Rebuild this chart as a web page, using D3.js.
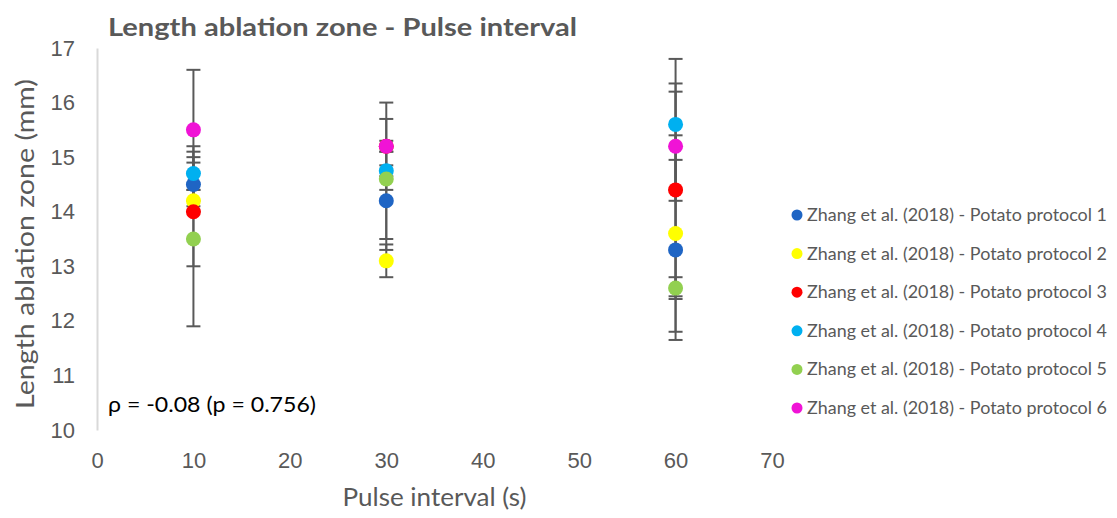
<!DOCTYPE html>
<html>
<head>
<meta charset="utf-8">
<script src="https://cdn.jsdelivr.net/npm/d3@7"></script>
<style>
    body { margin: 0; background: #fff; }
    svg { font-family: Lato, "Open Sans", sans-serif; }
</style>
</head>
<body>
<div id="chart"></div>
<script>
// Chart values
var pulseIntervals = [10, 30, 60];
var seriesNames = [
    "Zhang et al. (2018) - Potato protocol 1",
    "Zhang et al. (2018) - Potato protocol 2",
    "Zhang et al. (2018) - Potato protocol 3",
    "Zhang et al. (2018) - Potato protocol 4",
    "Zhang et al. (2018) - Potato protocol 5",
    "Zhang et al. (2018) - Potato protocol 6"
];
var seriesColors = ["#1f65c4", "#ffff00", "#ff0000", "#00b0f0", "#92d050", "#f013d6"];
var lengthValues = [
    [14.5, 14.2, 13.3],
    [14.2, 13.1, 13.6],
    [14.0, 15.2, 14.4],
    [14.7, 14.75, 15.6],
    [13.5, 14.6, 12.6],
    [15.5, 15.2, 15.2]
];
var lengthErrors = [
    [0.4, 0.9, 1.65],
    [0.2, 0.3, 1.8],
    [1.0, 0.8, 1.95],
    [0.5, 0.1, 1.2],
    [1.6, 1.1, 0.2],
    [1.1, 0.1, 1.0]
];
var xTicks = [0, 10, 20, 30, 40, 50, 60, 70];
var yTicks = [10, 11, 12, 13, 14, 15, 16, 17];

var width = 1117,
    height = 518;

var svg = d3.select("#chart")
    .append("svg")
    .attr("width", width)
    .attr("height", height);

var x = d3.scaleLinear().domain([0, 70]).range([97, 772]);
var y = d3.scaleLinear().domain([10, 17]).range([430, 48]);

// flatten into points
var points = [];
lengthValues.forEach(function (vals, s) {
    vals.forEach(function (v, i) {
        points.push({ s: s, x: pulseIntervals[i], y: v, err: lengthErrors[s][i] });
    });
});

// axes
var xAxis = d3.axisBottom(x).tickValues(xTicks).tickFormat(d3.format("d")).tickSize(0).tickPadding(22);
var yAxis = d3.axisLeft(y).tickValues(yTicks).tickFormat(d3.format("d")).tickSize(0).tickPadding(22);

var gx = svg.append("g")
    .attr("class", "axis")
    .attr("transform", "translate(0," + y(10) + ")")
    .call(xAxis);
gx.select(".domain").remove(); // no horizontal axis line in the reference

svg.append("g")
    .attr("class", "axis")
    .attr("transform", "translate(" + x(0) + ",0)")
    .call(yAxis);

svg.selectAll(".axis path").attr("stroke", "#d9d9d9").attr("stroke-width", 2);
svg.selectAll(".axis text")
    .attr("fill", "#595959")
    .style("font-size", "22px");

// error bars (drawn below all markers)
var capHalf = 7;
var bars = svg.append("g").attr("stroke", "#595959").attr("stroke-width", 2);
points.forEach(function (d) {
    var top = y(d.y + d.err), bottom = y(d.y - d.err), cx = x(d.x);
    bars.append("line").attr("x1", cx).attr("x2", cx).attr("y1", top).attr("y2", bottom);
    bars.append("line").attr("x1", cx - capHalf).attr("x2", cx + capHalf).attr("y1", top).attr("y2", top);
    bars.append("line").attr("x1", cx - capHalf).attr("x2", cx + capHalf).attr("y1", bottom).attr("y2", bottom);
});

// markers
svg.append("g")
    .selectAll("circle")
    .data(points)
    .enter()
    .append("circle")
    .attr("cx", d => x(d.x))
    .attr("cy", d => y(d.y))
    .attr("r", 7.5)
    .attr("fill", d => seriesColors[d.s]);

// title
svg.append("text")
    .attr("x", 108)
    .attr("y", 36)
    .attr("fill", "#595959")
    .attr("font-weight", "bold")
    .attr("textLength", 469)
    .attr("lengthAdjust", "spacingAndGlyphs")
    .style("font-size", "24px")
    .text("Length ablation zone - Pulse interval");

// axis titles
svg.append("text")
    .attr("x", (x(0) + x(70)) / 2)
    .attr("y", 506)
    .attr("text-anchor", "middle")
    .attr("fill", "#595959")
    .attr("textLength", 184)
    .attr("lengthAdjust", "spacingAndGlyphs")
    .style("font-size", "25px")
    .text("Pulse interval (s)");

svg.append("text")
    .attr("transform", "translate(34," + 244 + ") rotate(-90)")
    .attr("text-anchor", "middle")
    .attr("fill", "#595959")
    .attr("textLength", 330)
    .attr("lengthAdjust", "spacingAndGlyphs")
    .style("font-size", "25px")
    .text("Length ablation zone (mm)");

// correlation note
svg.append("text")
    .attr("x", 108)
    .attr("y", 412)
    .attr("fill", "#000")
    .attr("textLength", 208)
    .attr("lengthAdjust", "spacingAndGlyphs")
    .style("font-size", "22px")
    .text("\u03c1 = -0.08 (p = 0.756)");

// legend
var legend = svg.append("g");
seriesNames.forEach(function (name, i) {
    var ly = 215 + i * 38.6;
    legend.append("circle")
        .attr("cx", 797)
        .attr("cy", ly)
        .attr("r", 5.5)
        .attr("fill", seriesColors[i]);
    legend.append("text")
        .attr("x", 807)
        .attr("y", ly + 6)
        .attr("fill", "#595959")
        .attr("textLength", 300)
        .attr("lengthAdjust", "spacingAndGlyphs")
        .style("font-size", "18px")
        .text(name);
});
</script>
</body>
</html>
